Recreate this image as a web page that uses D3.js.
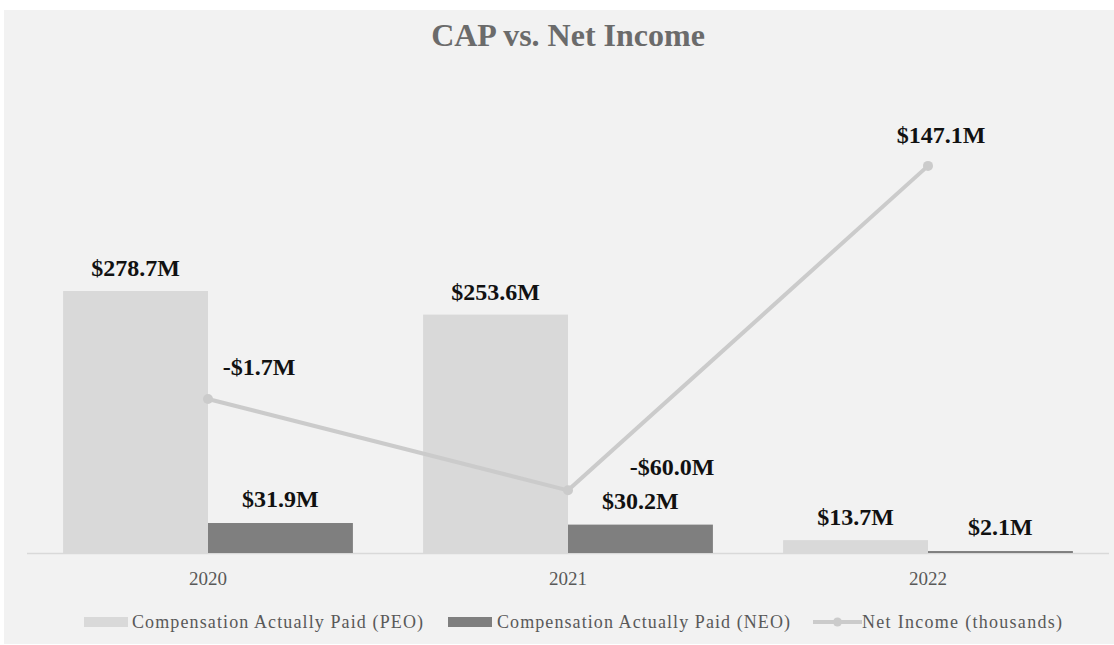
<!DOCTYPE html>
<html>
<head>
<meta charset="utf-8">
<title>CAP vs. Net Income</title>
<script src="https://d3js.org/d3.v7.min.js"></script>
<style>
  body { margin: 0; background: #ffffff; }
  svg text { font-family: "Liberation Serif", "Times New Roman", serif; }
</style>
</head>
<body>
<script>
  var years = ["2020", "2021", "2022"];
  var peo = [278.7, 253.6, 13.7];
  var neo = [31.9, 30.2, 2.1];
  var netIncome = [-1.7, -60.0, 147.1];
  var seriesNames = ["Compensation Actually Paid (PEO)", "Compensation Actually Paid (NEO)", "Net Income (thousands)"];

  // label nudges for the line labels (dx, dy from the point)
  var lineLabelShift = [[51, -24], [104, -15], [13, -23]];

  var width = 1114, height = 645;
  var plotTop = 83, plotBottom = 553;
  var peoColor = "#d9d9d9", neoColor = "#7f7f7f", lineColor = "#cbcbcb";

  var svg = d3.select("body").append("svg")
    .attr("width", width)
    .attr("height", height);

  svg.append("rect")
    .attr("x", 4).attr("y", 10)
    .attr("width", width - 4).attr("height", 634)
    .attr("fill", "#f2f2f2");

  svg.append("text")
    .attr("x", 568).attr("y", 46)
    .attr("text-anchor", "middle")
    .attr("font-size", 32).attr("font-weight", "bold")
    .attr("fill", "#6b6b6b")
    .text("CAP vs. Net Income");

  var x = d3.scaleBand().domain(years).range([28, 1108])
    .paddingInner(0.195).paddingOuter(0.0975);
  var x1 = d3.scaleBand().domain(["peo", "neo"]).range([0, x.bandwidth()]);
  var y = d3.scaleLinear().domain([0, 500]).range([plotBottom, plotTop]);
  var y2 = d3.scaleLinear().domain([-100, 200]).range([plotBottom, plotTop]);

  var money = function(v) {
    return (v < 0 ? "-$" : "$") + Math.abs(v).toFixed(1) + "M";
  };

  var rows = years.map(function(yr, i) { return {year: yr, peo: peo[i], neo: neo[i], ni: netIncome[i], i: i}; });

  // axis line
  svg.append("line")
    .attr("x1", 27).attr("x2", 1109)
    .attr("y1", y(0) + 0.5).attr("y2", y(0) + 0.5)
    .attr("stroke", "#d9d9d9").attr("stroke-width", 1.5);

  var groups = svg.selectAll("g.year").data(rows).enter().append("g")
    .attr("class", "year")
    .attr("transform", function(d) { return "translate(" + x(d.year) + ",0)"; });

  groups.append("rect")
    .attr("x", x1("peo")).attr("width", x1.bandwidth())
    .attr("y", function(d) { return y(d.peo); })
    .attr("height", function(d) { return y(0) - y(d.peo); })
    .attr("fill", peoColor);

  groups.append("rect")
    .attr("x", x1("neo")).attr("width", x1.bandwidth())
    .attr("y", function(d) { return y(d.neo); })
    .attr("height", function(d) { return y(0) - y(d.neo); })
    .attr("fill", neoColor);

  groups.append("text")
    .attr("x", x1("peo") + x1.bandwidth() / 2)
    .attr("y", function(d) { return y(d.peo) - 15; })
    .attr("text-anchor", "middle")
    .attr("font-size", 24).attr("font-weight", "bold").attr("fill", "#111")
    .text(function(d) { return money(d.peo); });

  groups.append("text")
    .attr("x", x1("neo") + x1.bandwidth() / 2)
    .attr("y", function(d) { return y(d.neo) - 16; })
    .attr("text-anchor", "middle")
    .attr("font-size", 24).attr("font-weight", "bold").attr("fill", "#111")
    .text(function(d) { return money(d.neo); });

  groups.append("text")
    .attr("x", x.bandwidth() / 2)
    .attr("y", 585)
    .attr("text-anchor", "middle")
    .attr("font-size", 19).attr("fill", "#595959")
    .text(function(d) { return d.year; });

  // net income line
  var cx = function(d) { return x(d.year) + x.bandwidth() / 2; };
  var line = d3.line().x(cx).y(function(d) { return y2(d.ni); });

  svg.append("path")
    .datum(rows)
    .attr("d", line)
    .attr("fill", "none")
    .attr("stroke", lineColor)
    .attr("stroke-width", 4);

  svg.selectAll("circle.pt").data(rows).enter().append("circle")
    .attr("class", "pt")
    .attr("cx", cx).attr("cy", function(d) { return y2(d.ni); })
    .attr("r", 5).attr("fill", lineColor);

  svg.selectAll("text.ni").data(rows).enter().append("text")
    .attr("class", "ni")
    .attr("x", function(d) { return cx(d) + lineLabelShift[d.i][0]; })
    .attr("y", function(d) { return y2(d.ni) + lineLabelShift[d.i][1]; })
    .attr("text-anchor", "middle")
    .attr("font-size", 24).attr("font-weight", "bold").attr("fill", "#111")
    .text(function(d) { return money(d.ni); });

  // legend
  var legend = svg.append("g").attr("transform", "translate(0,622)");
  var items = [
    {name: seriesNames[0], sx: 84, tx: 132, w: 291, kind: "bar", color: peoColor},
    {name: seriesNames[1], sx: 448, tx: 497, w: 293, kind: "bar", color: neoColor},
    {name: seriesNames[2], sx: 813, tx: 862, w: 200, kind: "line", color: lineColor}
  ];
  items.forEach(function(it) {
    if (it.kind === "bar") {
      legend.append("rect").attr("x", it.sx).attr("y", -5)
        .attr("width", 44).attr("height", 10).attr("fill", it.color);
    } else {
      legend.append("line").attr("x1", it.sx).attr("x2", it.sx + 49)
        .attr("y1", 0).attr("y2", 0)
        .attr("stroke", it.color).attr("stroke-width", 4);
      legend.append("circle").attr("cx", it.sx + 24.5).attr("cy", 0)
        .attr("r", 4.5).attr("fill", it.color);
    }
    legend.append("text")
      .attr("x", it.tx).attr("y", 6)
      .attr("font-size", 18).attr("fill", "#595959")
      .attr("textLength", it.w).attr("lengthAdjust", "spacing")
      .text(it.name);
  });
</script>
</body>
</html>
